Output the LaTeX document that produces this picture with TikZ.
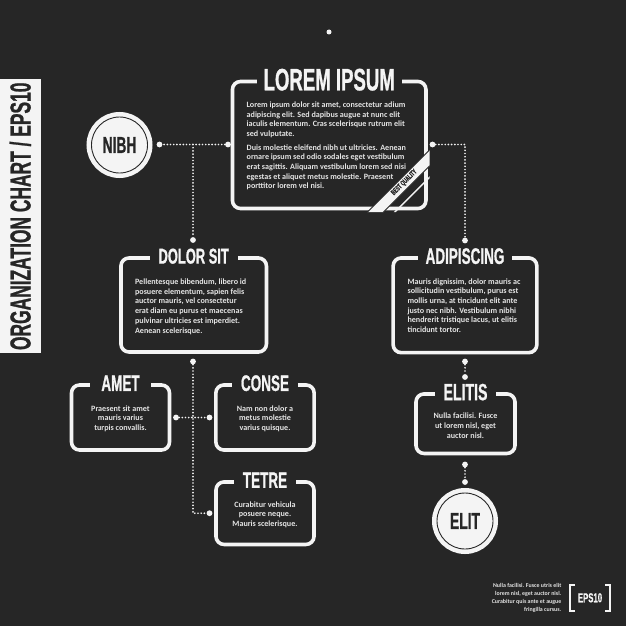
\documentclass[tikz,border=0pt]{standalone}
\usepackage{fontspec}
\setmainfont{Carlito}
\newfontfamily\headfont[FakeStretch=0.6,FakeBold=0.8]{Liberation Sans}
\usetikzlibrary{positioning,calc}
\definecolor{chartbg}{HTML}{262626}
\definecolor{chartfg}{HTML}{F4F4F4}
\definecolor{bodygray}{HTML}{E4E4E4}

\begin{document}
\begin{tikzpicture}[x=1pt,y=-1pt,
chartbox/.style={draw=chartfg,line width=3.6pt,rounded corners=8pt,inner sep=0pt},
boxhead/.style={fill=chartbg,text=chartfg,inner xsep=9pt,inner ysep=2pt,
    font=\headfont\bfseries\fontsize{22.5}{22.5}\selectfont},
boxtext/.style={text=bodygray,inner sep=0pt,font=\bfseries\fontsize{8.1}{9.7}\selectfont},
roundtag/.style={circle,fill=chartfg,draw=chartfg,line width=10pt,minimum size=56pt,
    text=chartbg,font=\headfont\bfseries\fontsize{23}{23}\selectfont,
    postaction={draw=chartbg,line width=.9pt}},
dotline/.style={chartfg,line width=1.9pt,line cap=round,dash pattern=on 0pt off 3.2pt},
enddot/.style={circle,fill=chartfg,inner sep=0pt,minimum size=5.8pt}]
\fill[chartbg] (0,0) rectangle (626,626);
\useasboundingbox (0,0) rectangle (626,626);

\node (tag) [rotate=90,fill=chartfg,text=chartbg,inner sep=0pt,
    minimum width=274pt,minimum height=40.7pt,
    font=\headfont\bfseries\fontsize{29}{29}\selectfont] at (20.3,216.3) {ORGANIZATION CHART / EPS10};

\node (topdot) [enddot,minimum size=5pt] at (329,32) {};

\node (lorem) [chartbox,minimum width=193.5pt,minimum height=127pt] at (329.2,145) {};
\node (loremhead) [boxhead,inner xsep=7pt,
    font=\headfont\bfseries\fontsize{31}{31}\selectfont] at (lorem.north) {LOREM IPSUM};
\node (loremtext) [boxtext,align=left,below right=22pt and 15.8pt of lorem.north west] {Lorem ipsum dolor sit amet, consectetur adium\\
adipiscing elit. Sed dapibus augue at nunc elit\\
iaculis elementum. Cras scelerisque rutrum elit\\
sed vulputate.\\[3.7pt]
Duis molestie eleifend nibh ut ultricies. Aenean\\
ornare ipsum sed odio sodales eget vestibulum\\
erat sagittis. Aliquam vestibulum lorem sed nisi\\
egestas et aliquet metus molestie. Praesent\\
porttitor lorem vel nisi.};

\begin{scope}
\clip[rounded corners=9.8pt] ($(lorem.north west)+(-1.8,-1.8)$) rectangle ($(lorem.south east)+(1.8,1.8)$);
\filldraw[fill=chartfg,draw=chartbg,line width=.8pt] ($(lorem.south east)+(-63.5,5)$) -- ($(lorem.south east)+(5,-63.5)$)
    -- ($(lorem.south east)+(5,-47.5)$) -- ($(lorem.south east)+(-47.5,5)$) -- cycle;
\draw[chartfg,line width=1.4pt] ($(lorem.south east)+(-36.2,5)$) -- ($(lorem.south east)+(5,-36.2)$);
\end{scope}
\node (badge) [rotate=45,text=chartbg,inner sep=0pt,
    font=\headfont\bfseries\fontsize{7.5}{7.5}\selectfont] at ($(lorem.south east)+(-23.5,-27.8)$) {BEST QUALITY};

\node (nibh) [roundtag] at (119.5,145) {NIBH};

\node (dolor) [chartbox,minimum width=145.5pt,minimum height=94pt] at (193.7,305) {};
\node (dolorhead) [boxhead,font=\headfont\bfseries\fontsize{21.5}{21.5}\selectfont] at (dolor.north) {DOLOR SIT};
\node (dolortext) [boxtext,align=left,below right=22.5pt and 15.7pt of dolor.north west] {Pellentesque bibendum, libero id\\
posuere elementum, sapien felis\\
auctor mauris, vel consectetur\\
erat diam eu purus et maecenas\\
pulvinar ultricies est imperdiet.\\
Aenean scelerisque.};

\node (adip) [chartbox,minimum width=143.7pt,minimum height=94.7pt] at (465,305.3) {};
\node (adiphead) [boxhead,inner xsep=8pt] at (adip.north) {ADIPISCING};
\node (adiptext) [boxtext,align=left,below right=22pt and 16pt of adip.north west] {Mauris dignissim, dolor mauris ac\\
sollicitudin vestibulum, purus est\\
mollis urna, at tincidunt elit ante\\
justo nec nibh. Vestibulum nibhi\\
hendrerit tristique lacus, ut elitis\\
tincidunt tortor.};

\node (amet) [chartbox,minimum width=98pt,minimum height=65pt] at (120.5,417.5) {};
\node (amethead) [boxhead,inner xsep=11pt] at (amet.north) {AMET};
\node (amettext) [boxtext,align=center,below=22pt of amet.north] {Praesent sit amet\\mauris varius\\turpis convallis.};

\node (conse) [chartbox,minimum width=98.3pt,minimum height=65pt] at (265,417.5) {};
\node (consehead) [boxhead] at (conse.north) {CONSE};
\node (consetext) [boxtext,align=center,below=22pt of conse.north] {Nam non dolor a\\metus molestie\\varius quisque.};

\node (tetre) [chartbox,minimum width=98pt,minimum height=62.5pt] at (265,513.2) {};
\node (tetrehead) [boxhead] at (tetre.north) {TETRE};
\node (tetretext) [boxtext,align=center,below=21pt of tetre.north] {Curabitur vehicula\\posuere neque.\\Mauris scelerisque.};

\node (elitis) [chartbox,minimum width=99pt,minimum height=59.5pt] at (465.5,423.7) {};
\node (elitishead) [boxhead,font=\headfont\bfseries\fontsize{23.5}{23.5}\selectfont] at (elitis.north) {ELITIS};
\node (elitistext) [boxtext,align=center,below=20.6pt of elitis.north] {Nulla facilisi. Fusce\\ut lorem nisl, eget\\auctor nisl.};

\node (elit) [roundtag] at (465,521) {ELIT};

\node (lw) [enddot] at (228,144.5) {};
\node (nibhe) [enddot] at (159.5,144.5) {};
\coordinate (lwj) at (193,144.5);
\node (dolorn) [enddot] at (193,240) {};
\node (le) [enddot] at (432.5,144.5) {};
\coordinate (lej) at (465,144.5);
\node (adipn) [enddot] at (465,240.5) {};
\node (dolors) [enddot] at (193,361.5) {};
\node (amete) [enddot] at (176,417.5) {};
\node (consew) [enddot] at (209.5,417.5) {};
\node (tetrew) [enddot] at (209.5,513.2) {};
\node (adips) [enddot] at (465,361.5) {};
\node (elitisn) [enddot] at (465,377) {};
\node (elitiss) [enddot] at (465,464.5) {};
\node (elitn) [enddot] at (465,482) {};

\draw[dotline] (lw) -- (nibhe);
\draw[dotline] (lwj) -- (dolorn);
\draw[dotline] (le) -- (lej) -- (adipn);
\draw[dotline] (dolors) |- (tetrew);
\draw[dotline] (amete) -- (consew);
\draw[dotline] (adips) -- (elitisn);
\draw[dotline] (elitiss) -- (elitn);

\node (note) [align=right,anchor=north east,text=bodygray,inner sep=0pt,
    font=\bfseries\fontsize{5.9}{8}\selectfont] at (561.5,583) {Nulla facilisi. Fusce utris elit\\
lorem nisl, eget auctor nisl.\\
Curabitur quis ante et augue\\
fringilla cursus.};
\node (eps) [text=chartfg,inner sep=0pt,minimum width=40pt,minimum height=25.7pt,
    font=\headfont\bfseries\fontsize{13}{13}\selectfont] at (590,597.8) {EPS10};
\draw[chartfg,line width=2pt] ([xshift=5pt]eps.north west) -- (eps.north west) -- (eps.south west) -- ([xshift=5pt]eps.south west);
\draw[chartfg,line width=2pt] ([xshift=-5pt]eps.north east) -- (eps.north east) -- (eps.south east) -- ([xshift=-5pt]eps.south east);
\end{tikzpicture}
\end{document}
